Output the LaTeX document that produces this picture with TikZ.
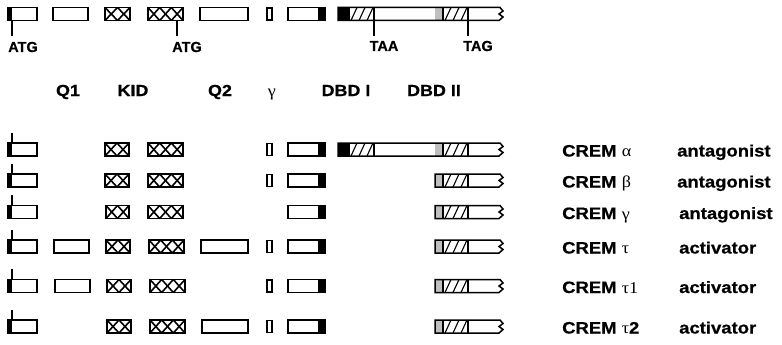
\documentclass[tikz,border=0pt]{standalone}
\usepackage{fontspec}
\setmainfont{Liberation Sans}
\newfontfamily\labfont[FakeStretch=1.12,FakeBold=0.6,UprightFont={* Bold}]{Liberation Sans}
\newfontfamily\codfont[FakeBold=0.6,UprightFont={* Bold}]{Liberation Sans}
\newfontfamily\grkfont[FakeStretch=1.1]{Liberation Serif}
\tikzset{
  boxline/.style={draw=black, line width=1.5pt},
  xline/.style={line width=1.6pt},
  slash/.style={line width=1.1pt},
  tickline/.style={line width=1.1pt},
  stip/.style={fill=gray!50},
  crem/.style={anchor=base west, inner sep=0pt, font=\labfont\fontsize{16.5}{18}\selectfont},
  dom/.style={anchor=base, inner sep=0pt, font=\labfont\fontsize{16}{18}\selectfont},
  codon/.style={anchor=base, inner sep=0pt, font=\codfont\fontsize{14.5}{16}\selectfont},
}
% first exon with ATG strip
\newcommand\exFirst[1]{%
  \fill ({8},{#1-6.5}) rectangle ({11.5},{#1+6.5});
  \draw[boxline] ({8},{#1-6.5}) rectangle ({37},{#1+6.5});}
\newcommand\exPlain[3]{\draw[boxline] ({#1},{#3-6.5}) rectangle ({#2},{#3+6.5});}
\newcommand\exCross[4]{%
  \pgfmathsetmacro\cw{(#2-#1)/#4}%
  \foreach \k in {1,...,#4}{%
    \draw[xline] ({#1+(\k-1)*\cw},{#3-6.5}) -- ({#1+\k*\cw},{#3+6.5});
    \draw[xline] ({#1+(\k-1)*\cw},{#3+6.5}) -- ({#1+\k*\cw},{#3-6.5});}
  \draw[boxline] ({#1},{#3-6.5}) rectangle ({#2},{#3+6.5});}
\newcommand\exGamma[1]{\draw[boxline] ({267},{#1-6}) rectangle ({272},{#1+6});}
\newcommand\exDBD[1]{%
  \fill ({318},{#1-6.5}) rectangle ({325},{#1+6.5});
  \draw[boxline] ({288},{#1-6.5}) rectangle ({325},{#1+6.5});}
% C-terminal part (DBD II) from 435 to 500 with zigzag end
\newcommand\exTail[1]{%
  \fill[stip] ({435},{#1-6.5}) rectangle ({443},{#1+6.5});
  \foreach \s in {0,1,2}{\draw[slash] ({445+8*\s},{#1+6.5}) -- ({451+8*\s},{#1-6.5});}
  \draw[line width=1.1pt] ({443},{#1-6.5}) -- ({443},{#1+6.5});
  \draw[line width=1.1pt] ({468},{#1-6.5}) -- ({468},{#1+6.5});}
\newcommand\outlineTail[2]{% start x, yc
  \draw[boxline] ({500},{#2-6.5}) -- ({#1},{#2-6.5}) -- ({#1},{#2+6.5}) -- ({499},{#2+6.5})
     -- ({503},{#2+3}) -- ({499},{#2}) -- ({503},{#2-3}) -- cycle;}
\newcommand\exAlpha[1]{%
  \fill ({338},{#1-6.5}) rectangle ({350},{#1+6.5});
  \foreach \s in {0,1,2}{\draw[slash] ({351+8*\s},{#1+6.5}) -- ({357+8*\s},{#1-6.5});}
  \draw[line width=1.1pt] ({374},{#1-6.5}) -- ({374},{#1+6.5});
  \exTail{#1}
  \outlineTail{338}{#1}}
\newcommand\exBeta[1]{\exTail{#1}\outlineTail{435}{#1}}
\newcommand\tickUp[1]{\draw[tickline] ({12},{#1-6.5}) -- ({12},{#1-17});}
\begin{document}
\begin{tikzpicture}[x=1pt,y=-1pt]
\useasboundingbox (0,0) rectangle (782,345);
% ---------- top genomic row ----------
\def\ty{14}
\exFirst{\ty}
\exPlain{53}{88}{\ty}
\exCross{105}{130}{\ty}{2}
\exCross{148}{183}{\ty}{3}
\exPlain{200}{248}{\ty}
\exGamma{\ty}
\exDBD{\ty}
\exAlpha{\ty}
\coordinate (atgA) at (12,20.5);
\coordinate (atgB) at (177,20.5);
\coordinate (taa) at (374,20.5);
\coordinate (tag) at (468,20.5);
\node[codon] (tATGa) at (23,52) {ATG};
\node[codon] (tATGb) at (187,52) {ATG};
\node[codon] (tTAA) at (384,51) {TAA};
\node[codon] (tTAG) at (478,51) {TAG};
\draw[tickline] (atgA) -- (12,36);
\draw[tickline] (atgB) -- (177,36);
\draw[tickline] (taa) -- (374,36);
\draw[tickline] (tag) -- (468,36);
% ---------- domain labels ----------
\node[dom] (lQ1) at (68,96) {Q1};
\node[dom] (lKID) at (133,96) {KID};
\node[dom] (lQ2) at (220,96) {Q2};
\node[anchor=base, inner sep=0pt, font=\grkfont\fontsize{16.5}{18}\selectfont] (lG) at (272,96) {γ};
\node[dom] (lD1) at (346,96) {DBD I};
\node[dom] (lD2) at (434,96) {DBD II};
% ---------- CREM alpha ----------
\def\ry{149.5}
\exFirst{\ry}\tickUp{\ry}
\exCross{105}{129}{\ry}{2}\exCross{148}{183}{\ry}{3}
\exGamma{\ry}\exDBD{\ry}\exAlpha{\ry}
\node[crem] (na) at (562,\ry+7) {CREM {\grkfont α}};
\node[crem] (fa) at (677,\ry+7) {antagonist};
% ---------- CREM beta ----------
\def\ry{180.5}
\exFirst{\ry}\tickUp{\ry}
\exCross{105}{129}{\ry}{2}\exCross{148}{183}{\ry}{3}
\exGamma{\ry}\exDBD{\ry}\exBeta{\ry}
\node[crem] (nb) at (562,\ry+7) {CREM {\grkfont β}};
\node[crem] (fb) at (677,\ry+7) {antagonist};
% ---------- CREM gamma ----------
\def\ry{212}
\exFirst{\ry}\tickUp{\ry}
\exCross{106}{129}{\ry}{2}\exCross{148}{183}{\ry}{3}
\exDBD{\ry}\exBeta{\ry}
\node[crem] (ng) at (562,\ry+7) {CREM {\grkfont γ}};
\node[crem] (fg) at (679,\ry+7) {antagonist};
% ---------- CREM tau ----------
\def\ry{246.5}
\exFirst{\ry}\tickUp{\ry}
\exPlain{54}{89}{\ry}
\exCross{106}{130}{\ry}{2}\exCross{149}{184}{\ry}{3}
\exPlain{201}{248}{\ry}
\exGamma{\ry}\exDBD{\ry}\exBeta{\ry}
\node[crem] (nt) at (562,\ry+7) {CREM {\grkfont τ}};
\node[crem] (ft) at (679,\ry+7) {activator};
% ---------- CREM tau1 ----------
\def\ry{286}
\exFirst{\ry}\tickUp{\ry}
\exPlain{55}{90}{\ry}
\exCross{107}{131}{\ry}{2}\exCross{150}{185}{\ry}{3}
\exGamma{\ry}\exDBD{\ry}\exBeta{\ry}
\node[crem] (nt1) at (562,\ry+7) {CREM {\grkfont τ1}};
\node[crem] (ft1) at (679,\ry+7) {activator};
% ---------- CREM tau2 ----------
\def\ry{326.5}
\exFirst{\ry}\tickUp{\ry}
\exCross{107}{131}{\ry}{2}\exCross{150}{185}{\ry}{3}
\exPlain{202}{248}{\ry}
\exGamma{\ry}\exDBD{\ry}\exBeta{\ry}
\node[crem] (nt2) at (562,\ry+7) {CREM {\grkfont τ}2};
\node[crem] (ft2) at (679,\ry+7) {activator};
\end{tikzpicture}
\end{document}
